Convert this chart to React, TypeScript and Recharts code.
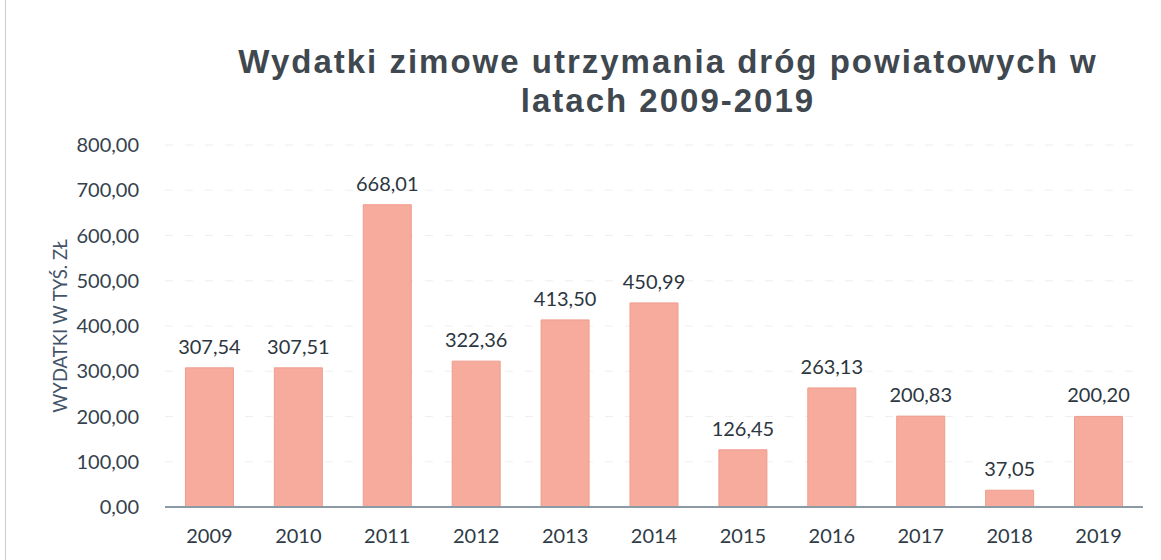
import { BarChart, Bar, XAxis, YAxis, CartesianGrid, LabelList } from "recharts";

const years = ["2009", "2010", "2011", "2012", "2013", "2014", "2015", "2016", "2017", "2018", "2019"];
const spending = [307.54, 307.51, 668.01, 322.36, 413.5, 450.99, 126.45, 263.13, 200.83, 37.05, 200.2];
const yTicks = [0, 100, 200, 300, 400, 500, 600, 700, 800];

const data = years.map((year, i) => ({ year, value: spending[i] }));

const fmt = (v: number) => Number(v).toFixed(2).replace(".", ",");

const font = "Lato, 'Open Sans', sans-serif";

const App = () => {
  return (
    <div style={{ position: "absolute", left: 0, top: 0, width: 1161, height: 560, background: "#fff" }}>
      <div style={{ position: "absolute", left: 5, top: 0, width: 1, height: 560, background: "#c9ced3" }} />
      <div
        style={{
          position: "absolute",
          left: 180,
          width: 976,
          top: 42,
          textAlign: "center",
          fontFamily: "'Liberation Sans', Arial, sans-serif",
          fontWeight: "bold",
          fontSize: 33,
          letterSpacing: 2,
          lineHeight: "39px",
          color: "#3f474f",
        }}
      >
        Wydatki zimowe utrzymania dróg powiatowych w
        <br />
        latach 2009-2019
      </div>
      <BarChart
        width={1161}
        height={560}
        data={data}
        margin={{ top: 145, right: 18, bottom: 0, left: 0 }}
        barCategoryGap="23%"
      >
        <CartesianGrid vertical={false} stroke="#efefef" strokeDasharray="8 12" />
        <XAxis
          dataKey="year"
          height={53}
          tickLine={false}
          axisLine={{ stroke: "#8c9aa6", strokeWidth: 2 }}
          tick={{ fill: "#2f3b46", fontSize: 20, fontFamily: font }}
          tickMargin={16}
        />
        <YAxis
          width={165}
          domain={[0, 800]}
          ticks={yTicks}
          tickFormatter={fmt}
          axisLine={false}
          tickLine={false}
          tickMargin={20}
          tick={{ fill: "#34424e", fontSize: 20, fontFamily: font }}
          label={{
            content: ({ viewBox }: any) => {
              const cy = viewBox.y + viewBox.height / 2;
              return (
                <text
                  x={60}
                  y={cy}
                  transform={`rotate(-90 60 ${cy})`}
                  textAnchor="middle"
                  dominantBaseline="central"
                  fill="#44546a"
                  fontSize={18.5}
                  fontFamily={font}
                >
                  WYDATKI W TYŚ. ZŁ
                </text>
              );
            },
          }}
        />
        <Bar dataKey="value" fill="#f6ab9d" stroke="#ee9d8e" strokeWidth={1} isAnimationActive={false}>
          <LabelList
            dataKey="value"
            position="top"
            offset={14}
            formatter={(v: any) => fmt(v)}
            style={{ fill: "#2c3640", fontSize: 20, fontFamily: font }}
          />
        </Bar>
      </BarChart>
    </div>
  );
};

export default App;
